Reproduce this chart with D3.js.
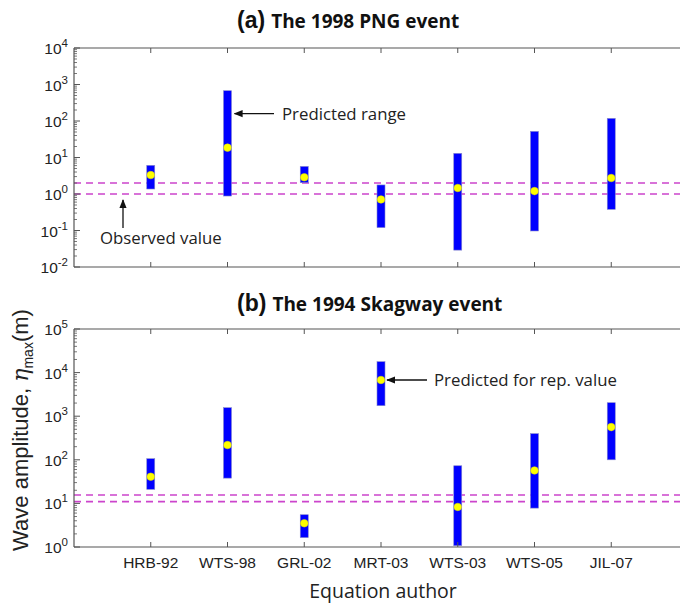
<!DOCTYPE html>
<html><head><meta charset="utf-8">
<script src="https://cdn.jsdelivr.net/npm/d3@7"></script>
<style>body{margin:0;background:#fff}svg{display:block}</style>
</head><body><svg id="c" width="680" height="603"></svg>
<script>
const categories = ["HRB-92","WTS-98","GRL-02","MRT-03","WTS-03","WTS-05","JIL-07"];
// (a) 1998 PNG event
const pngLow  = [1.37, 0.88, 2.04, 0.12, 0.029, 0.097, 0.38];
const pngHigh = [6.1, 676, 5.7, 1.77, 13, 52, 118];
const pngRep  = [3.3, 18.6, 2.87, 0.71, 1.46, 1.2, 2.74];
const pngObs  = [1.0, 2.0];
// (b) 1994 Skagway event
const skgLow  = [21, 38, 1.64, 1740, 1.07, 7.8, 100];
const skgHigh = [106, 1567, 5.5, 17800, 73, 398, 2040];
const skgRep  = [41, 218, 3.5, 6770, 8.3, 57, 563];
const skgObs  = [11, 15.6];

const svg = d3.select("#c");
const L = 74, R = 688;
const x = d3.scaleLinear().domain([0, 8]).range([L, R]);
const axisCol = "#555";

function panel(top, bottom, dom, low, high, rep, obs, letter, title, titleY, showXLabels) {
  const g = svg.append("g");
  const y = d3.scaleLog().domain(dom).range([bottom, top]);
  g.selectAll(".obs").data(obs).enter().append("line")
    .attr("x1", L).attr("x2", R).attr("y1", d => y(d)).attr("y2", d => y(d))
    .attr("stroke", "#cc44cc").attr("stroke-width", 1.6).attr("stroke-dasharray", "7,5");
  g.selectAll(".bar").data(categories).enter().append("rect")
    .attr("x", (d, i) => x(i + 1) - 4).attr("width", 8)
    .attr("y", (d, i) => y(high[i])).attr("height", (d, i) => y(low[i]) - y(high[i]))
    .attr("fill", "#0000ff").attr("stroke", "#8888cc").attr("stroke-width", 0.6);
  g.selectAll(".dot").data(categories).enter().append("circle")
    .attr("cx", (d, i) => x(i + 1)).attr("cy", (d, i) => y(rep[i])).attr("r", 3.8)
    .attr("fill", "#ffff00").attr("stroke", "#dddd00").attr("stroke-width", 0.5);
  g.append("line").attr("x1", L).attr("x2", L).attr("y1", top).attr("y2", bottom).attr("stroke", axisCol).attr("stroke-width", 1.2);
  g.append("line").attr("x1", L).attr("x2", R).attr("y1", top).attr("y2", top).attr("stroke", axisCol).attr("stroke-width", 1.2);
  g.append("line").attr("x1", L).attr("x2", R).attr("y1", bottom).attr("y2", bottom).attr("stroke", axisCol).attr("stroke-width", 1.2);
  categories.forEach((c, i) => {
    const xx = x(i + 1);
    g.append("line").attr("x1", xx).attr("x2", xx).attr("y1", bottom).attr("y2", bottom - 5).attr("stroke", axisCol);
    g.append("line").attr("x1", xx).attr("x2", xx).attr("y1", top).attr("y2", top + 5).attr("stroke", axisCol);
  });
  if (showXLabels) {
    g.selectAll(".xl").data(categories).enter().append("text")
      .attr("x", (d, i) => x(i + 1)).attr("y", bottom + 21)
      .attr("text-anchor", "middle").attr("font-family", "Liberation Sans, Arial, sans-serif")
      .attr("font-size", 15.5).attr("fill", "#222").text(d => d);
  }
  const e0 = Math.round(Math.log10(dom[0])), e1 = Math.round(Math.log10(dom[1]));
  for (let e = e0; e <= e1; e++) {
    const yy = y(Math.pow(10, e));
    g.append("line").attr("x1", L).attr("x2", L + 6).attr("y1", yy).attr("y2", yy).attr("stroke", axisCol);
    const t = g.append("text").attr("x", L - 6).attr("y", yy + 6).attr("text-anchor", "end")
      .attr("font-family", "Liberation Sans, Arial, sans-serif").attr("font-size", 15.5).attr("fill", "#222");
    t.append("tspan").text("10");
    t.append("tspan").attr("dy", -7).attr("font-size", 11.5).text(String(e));
    if (e < e1) {
      for (let m = 2; m <= 9; m++) {
        const ym = y(m * Math.pow(10, e));
        g.append("line").attr("x1", L).attr("x2", L + 3).attr("y1", ym).attr("y2", ym).attr("stroke", axisCol).attr("stroke-width", 0.8);
      }
    }
  }
  const tt = svg.append("text").attr("x", 237).attr("y", titleY).attr("fill", "#111").attr("font-weight", "bold");
  tt.append("tspan").attr("font-family", "Liberation Sans, Arial, sans-serif").attr("font-size", 23).text(letter);
  tt.append("tspan").attr("font-family", "Open Sans, Noto Sans, sans-serif").attr("font-size", 19).attr("dx", 6).text(title);
  return y;
}

const ya = panel(48, 267, [1e-2, 1e4], pngLow, pngHigh, pngRep, pngObs, "(a)", "The 1998 PNG event", 28, false);
const yb = panel(329, 547, [1, 1e5], skgLow, skgHigh, skgRep, skgObs, "(b)", "The 1994 Skagway event", 311, true);

svg.append("defs").append("marker").attr("id", "ah").attr("viewBox", "0 0 10 10")
  .attr("refX", 9).attr("refY", 5).attr("markerWidth", 9).attr("markerHeight", 9)
  .attr("markerUnits", "userSpaceOnUse").attr("orient", "auto")
  .append("path").attr("d", "M0,1 L10,5 L0,9 Z").attr("fill", "#111");

const annFont = "Open Sans, Noto Sans, sans-serif";
const annSize = 16.8;
const yPR = ya(160);
svg.append("line").attr("x1", 274).attr("x2", x(2) + 7).attr("y1", yPR).attr("y2", yPR)
  .attr("stroke", "#111").attr("stroke-width", 1.3).attr("marker-end", "url(#ah)");
svg.append("text").attr("x", 282).attr("y", yPR + 6).attr("font-family", annFont).attr("font-size", annSize).attr("fill", "#222").text("Predicted range");
svg.append("line").attr("x1", 123).attr("x2", 123).attr("y1", 228).attr("y2", ya(1) + 6)
  .attr("stroke", "#111").attr("stroke-width", 1.3).attr("marker-end", "url(#ah)");
svg.append("text").attr("x", 100).attr("y", 244).attr("font-family", annFont).attr("font-size", annSize).attr("fill", "#222").text("Observed value");
const yRV = yb(skgRep[3]);
svg.append("line").attr("x1", 427).attr("x2", x(4) + 6).attr("y1", yRV).attr("y2", yRV)
  .attr("stroke", "#111").attr("stroke-width", 1.3).attr("marker-end", "url(#ah)");
svg.append("text").attr("x", 434).attr("y", yRV + 6).attr("font-family", annFont).attr("font-size", annSize).attr("fill", "#222").text("Predicted for rep. value");

const yl = svg.append("text").attr("transform", "translate(28,430) rotate(-90)").attr("text-anchor", "middle")
  .attr("font-family", "Liberation Sans, Arial, sans-serif").attr("font-size", 22).attr("fill", "#222");
yl.append("tspan").text("Wave amplitude, ");
yl.append("tspan").attr("font-family", "DejaVu Serif, serif").attr("font-style", "italic").text("\u03B7");
yl.append("tspan").attr("font-size", 14).attr("dy", 5).text("max");
yl.append("tspan").attr("dy", -5).text("(m)");
svg.append("text").attr("x", 383).attr("y", 598).attr("text-anchor", "middle")
  .attr("font-family", annFont).attr("font-size", 19.5).attr("fill", "#222").text("Equation author");
</script></body></html>
